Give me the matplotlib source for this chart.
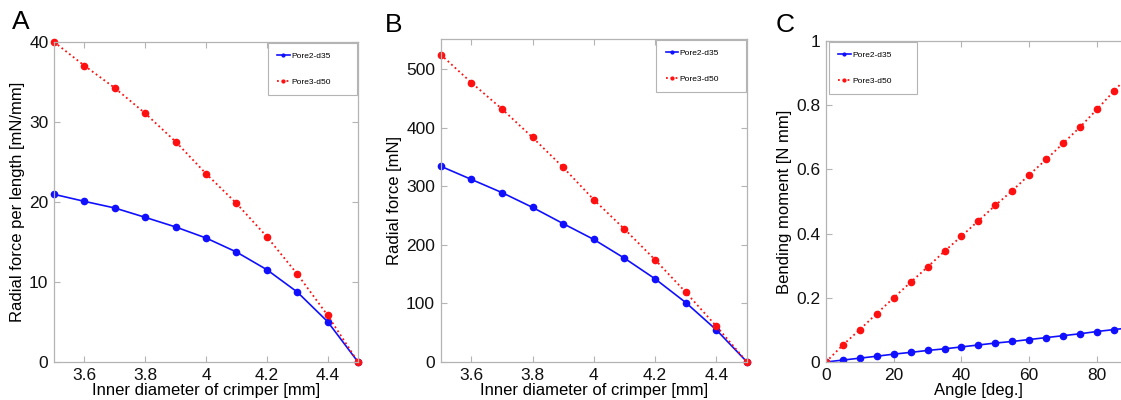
import numpy as np
import matplotlib
matplotlib.use('Agg')
from matplotlib import pyplot as plt

plt.rcParams['font.family'] = ['Liberation Sans', 'DejaVu Sans']

# panel A / B : inner diameter of crimper [mm]
diam = [3.5, 3.6, 3.7, 3.8, 3.9, 4.0, 4.1, 4.2, 4.3, 4.4, 4.5]
force_len_d35 = [20.96, 20.08, 19.25, 18.08, 16.88, 15.5, 13.75, 11.54, 8.75, 5.04, 0.0]
force_len_d50 = [40.0, 37.04, 34.25, 31.08, 27.54, 23.54, 19.83, 15.67, 11.0, 5.83, 0.0]
force_d35 = [334, 311.5, 289, 263.7, 236, 209, 177, 141.8, 101.4, 54.7, 0]
force_d50 = [524.5, 476.7, 431.7, 383, 332, 276.8, 226.7, 174.3, 119, 61, 0]

# panel C : bending angle [deg.]
angle = [0, 5, 10, 15, 20, 25, 30, 35, 40, 45, 50, 55, 60, 65, 70, 75, 80, 85, 90]
moment_d35 = [0, 0.006, 0.012, 0.018, 0.0245, 0.030, 0.036, 0.041, 0.047, 0.053,
              0.059, 0.064, 0.070, 0.076, 0.082, 0.088, 0.095, 0.101, 0.107]
moment_d50 = [0, 0.053, 0.101, 0.151, 0.200, 0.2485, 0.296, 0.345, 0.392, 0.440,
              0.488, 0.534, 0.583, 0.631, 0.681, 0.732, 0.787, 0.844, 0.90]

labels = ['Pore2-d35', 'Pore3-d50']
diam_ticks = [3.6, 3.8, 4.0, 4.2, 4.4]
diam_ticklabels = ['3.6', '3.8', '4', '4.2', '4.4']

SPINE = '#b4b4b4'
TICK_FS = 12.5
LABEL_FS = 12


def style(ax):
    for s in ax.spines.values():
        s.set_color(SPINE)
        s.set_linewidth(0.9)
    ax.tick_params(direction='in', length=4, width=0.8, color=SPINE,
                   labelsize=TICK_FS, labelcolor='#111111', top=True, right=True, pad=4)


def draw(ax, x, y1, y2, anchor, clip=False):
    ax.plot(x, y1, '-', color='#1010ff', lw=1.2, marker='o', ms=4.5, label=labels[0],
            clip_on=clip)
    ax.plot(x, y2, ':', color='#ff1010', lw=1.3, marker='o', ms=4.5, label=labels[1],
            clip_on=clip)
    # matlab-like legend box: fixed width, text left aligned
    leg = ax.legend(loc='upper left', bbox_to_anchor=anchor, mode='expand',
                    fontsize=6, labelspacing=2.2, handlelength=1.5,
                    handletextpad=0.15, borderpad=1.1, fancybox=False, markerscale=0.45,
                    framealpha=1, borderaxespad=0)
    leg.get_frame().set_edgecolor(SPINE)
    leg.get_frame().set_linewidth(0.8)
    style(ax)


fig = plt.figure(figsize=(11.21, 4.0), dpi=100)

axA = fig.add_axes([0.0482, 0.095, 0.2712, 0.80])
draw(axA, diam, force_len_d35, force_len_d50, (0.704, 0, 0.293, 0.997))
axA.set_xlim(3.5, 4.5)
axA.set_ylim(0, 40)
axA.set_xticks(diam_ticks)
axA.set_xticklabels(diam_ticklabels)
axA.set_yticks([0, 10, 20, 30, 40])
axA.set_xlabel('Inner diameter of crimper [mm]', fontsize=LABEL_FS, labelpad=0)
axA.set_ylabel('Radial force per length [mN/mm]', fontsize=LABEL_FS, labelpad=3)

axB = fig.add_axes([0.3931, 0.095, 0.2733, 0.8075])
draw(axB, diam, force_d35, force_d50, (0.704, 0, 0.293, 0.997))
axB.set_xlim(3.5, 4.5)
axB.set_ylim(0, 551)
axB.set_xticks(diam_ticks)
axB.set_xticklabels(diam_ticklabels)
axB.set_yticks([0, 100, 200, 300, 400, 500])
axB.set_xlabel('Inner diameter of crimper [mm]', fontsize=LABEL_FS, labelpad=0)
axB.set_ylabel('Radial force [mN]', fontsize=LABEL_FS, labelpad=3)

axC = fig.add_axes([0.7368, 0.095, 0.272, 0.8025])
draw(axC, angle, moment_d35, moment_d50, (0.01, 0, 0.288, 0.997), clip=True)
axC.set_xlim(0, 90)
axC.set_ylim(0, 1)
axC.set_xticks([0, 20, 40, 60, 80])
axC.set_yticks([0, 0.2, 0.4, 0.6, 0.8, 1.0])
axC.set_yticklabels(['0', '0.2', '0.4', '0.6', '0.8', '1'])
axC.set_xlabel('Angle [deg.]', fontsize=LABEL_FS, labelpad=0)
axC.set_ylabel('Bending moment [N mm]', fontsize=LABEL_FS, labelpad=3)

fig.text(0.0107, 0.945, 'A', fontsize=19, ha='left', va='center')
fig.text(0.343, 0.937, 'B', fontsize=19, ha='left', va='center')
fig.text(0.692, 0.937, 'C', fontsize=19, ha='left', va='center')

fig.savefig('out.png', dpi=100)
